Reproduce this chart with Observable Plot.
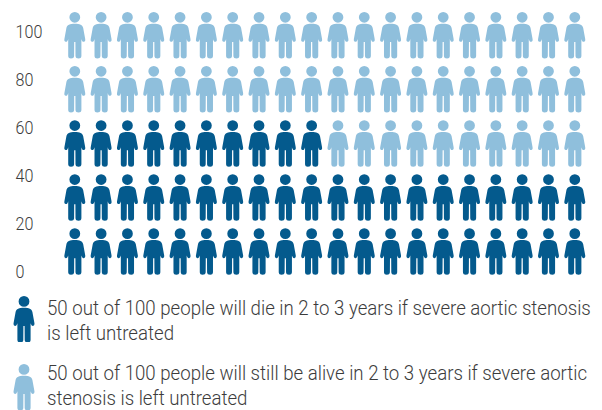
<!DOCTYPE html>
<html>
<head>
<meta charset="utf-8">
<script src="https://cdn.jsdelivr.net/npm/d3@7"></script>
<script src="https://cdn.jsdelivr.net/npm/@observablehq/plot@0.6"></script>
<style>
  html, body { margin: 0; padding: 0; background: #fff; overflow: hidden; }
  #chart svg { display: block; }
  .legend-item svg { position: absolute; left: 12px; display: block; }
  /* Narrowed light type for the captions */
  .legend-item p {
    position: absolute; left: 47px; margin: 0; width: 596px;
    font: 300 20.2px/24.5px Roboto, sans-serif; color: #3c3c3c;
    transform: scaleX(0.924); transform-origin: left top;
  }
</style>
</head>
<body>
<div id="chart"></div>
<div id="legend"></div>
<script>
// Outcome counts out of 100 people
const dieCount = 50;
const aliveCount = 50;
const columnsPerRow = 20;
const rowPositions = [8.75, 31.3, 53.8, 76.4, 98.9];
const yTicks = [0, 20, 40, 60, 80, 100];
const dark = "#045a8d";
const light = "#8fbfdc";
const legendTexts = [
  "50 out of 100 people will die in 2 to 3 years if severe aortic stenosis is left untreated",
  "50 out of 100 people will still be alive in 2 to 3 years if severe aortic stenosis is left untreated"
];

// Person pictogram, centred on the origin and 46.5 units tall
const person = {
  draw(ctx, size) {
    const k = Math.sqrt(size / Math.PI) / 23.25;
    const X = v => v * k;
    const Y = v => (v - 23.25) * k;
    // head
    ctx.moveTo(X(5.4), Y(5.4));
    ctx.arc(0, Y(5.4), 5.4 * k, 0, 2 * Math.PI);
    ctx.closePath();
    // body, traced clockwise from the neck
    ctx.moveTo(X(0), Y(11.8));
    ctx.bezierCurveTo(X(5), Y(11.8), X(7.7), Y(13), X(8.4), Y(16));
    ctx.lineTo(X(10.4), Y(27));
    ctx.bezierCurveTo(X(10.7), Y(28.8), X(10.1), Y(29.6), X(9.1), Y(29.9));
    ctx.bezierCurveTo(X(8.2), Y(30.1), X(7.4), Y(29.4), X(6.9), Y(28));
    ctx.lineTo(X(6.6), Y(27.2));
    ctx.lineTo(X(6.6), Y(44));
    ctx.bezierCurveTo(X(6.6), Y(45.7), X(5.4), Y(46.5), X(3.8), Y(46.5));
    ctx.bezierCurveTo(X(2), Y(46.5), X(0.7), Y(45.7), X(0.7), Y(44));
    ctx.lineTo(X(0.6), Y(30));
    ctx.lineTo(X(-0.6), Y(30));
    ctx.lineTo(X(-0.7), Y(44));
    ctx.bezierCurveTo(X(-0.7), Y(45.7), X(-2), Y(46.5), X(-3.8), Y(46.5));
    ctx.bezierCurveTo(X(-5.4), Y(46.5), X(-6.6), Y(45.7), X(-6.6), Y(44));
    ctx.lineTo(X(-6.6), Y(27.2));
    ctx.lineTo(X(-6.9), Y(28));
    ctx.bezierCurveTo(X(-7.4), Y(29.4), X(-8.2), Y(30.1), X(-9.1), Y(29.9));
    ctx.bezierCurveTo(X(-10.1), Y(29.6), X(-10.7), Y(28.8), X(-10.4), Y(27));
    ctx.lineTo(X(-8.4), Y(16));
    ctx.bezierCurveTo(X(-7.7), Y(13), X(-5), Y(11.8), X(0), Y(11.8));
    ctx.closePath();
  }
};

// One record per person, filled from the bottom row upward
const people = [];
rowPositions.forEach((level, row) => {
  for (let col = 1; col <= columnsPerRow; col++) {
    const index = row * columnsPerRow + col;
    people.push({col, level, outcome: index <= dieCount ? "die" : "alive"});
  }
});

const chart = Plot.plot({
  width: 602,
  height: 285,
  marginLeft: 15,
  marginRight: 0,
  marginTop: 0,
  marginBottom: 0,
  style: {background: "#fff"},
  x: {domain: [1, columnsPerRow], range: [74.3, 574.3], axis: null},
  y: {domain: [0, 100], range: [272, 32]},
  color: {domain: ["die", "alive"], range: [dark, light]},
  marks: [
    Plot.axisY(yTicks, {
      anchor: "left",
      tickSize: 0,
      tickPadding: 0,
      textAnchor: "start",
      fontSize: 19,
      dy: -0.5,
      fontFamily: "Roboto, sans-serif",
      fontWeight: 300,
      fill: "#3c3c3c",
      label: null
    }),
    Plot.dot(people, {
      x: "col",
      y: "level",
      r: 23.25,
      fill: "outcome",
      stroke: "none",
      symbol: person
    })
  ]
});
document.getElementById("chart").append(chart);

// Narrow the axis numerals to the same proportions as the captions
d3.select(chart).selectAll("[aria-label='y-axis tick label'] text").each(function () {
  this.setAttribute("lengthAdjust", "spacingAndGlyphs");
  this.setAttribute("textLength", this.getComputedTextLength() * 0.85);
});

// Legend: one pictogram and its caption per outcome
const legendHost = document.getElementById("legend");
[[dark, 296, 296], [light, 364, 361]].forEach(([fill, iconTop, textTop], i) => {
  const item = document.createElement("div");
  item.className = "legend-item";
  const path = d3.path();
  person.draw(path, Math.PI * 23.25 * 23.25);
  const icon = d3.create("svg").attr("width", 24).attr("height", 46)
    .attr("viewBox", "-12 -23.25 24 46")
    .style("top", iconTop + "px");
  icon.append("path").attr("d", path.toString()).attr("fill", fill);
  item.append(icon.node());
  const caption = document.createElement("p");
  caption.style.top = textTop + "px";
  caption.textContent = legendTexts[i];
  item.append(caption);
  legendHost.append(item);
});
</script>
</body>
</html>
